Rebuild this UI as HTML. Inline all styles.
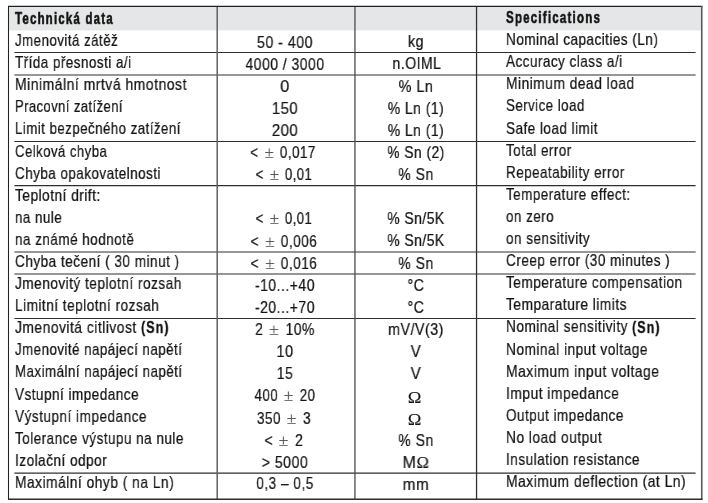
<!DOCTYPE html>
<html><head><meta charset="utf-8"><title>Technická data</title>
<style>
html,body{margin:0;padding:0;background:#fff;}
body{width:708px;height:503px;position:relative;overflow:hidden;font-family:"Liberation Sans",sans-serif;color:#141414;}
.hd{position:absolute;left:9px;top:7px;width:692px;height:23.4px;background:#e5e6e7;}
.ln{position:absolute;left:0;top:0;}
.t{-webkit-text-stroke:0.24px #141414;will-change:transform;position:absolute;white-space:pre;font-size:17.00px;line-height:1;height:17.00px;}
.l{transform-origin:0 0;}
.c{transform-origin:50% 0;width:300px;text-align:center;}
b{font-weight:bold;-webkit-text-stroke:0.65px #1c1c1c;}
b.ib{-webkit-text-stroke:0.35px #1c1c1c;}
.sy{font-family:"Liberation Serif",serif;color:#5c5c5c;-webkit-text-stroke:0.15px #5c5c5c;display:inline-block;font-size:118%;line-height:0;position:relative;top:0.8px;transform:scale(1.08,0.86);transform-origin:50% 80%;}
.om{font-family:"Liberation Serif",serif;-webkit-text-stroke:0.12px #141414;font-size:104%;line-height:0;position:relative;top:0.4px;}
</style></head><body>

<svg class="ln" width="708" height="503" viewBox="0 0 708 503"><rect x="9" y="7" width="692.2" height="23.45" fill="#e5e6e7"/><line x1="14.4" x2="695.6" y1="52.50" y2="52.50" stroke="#2e2e2e" stroke-width="1.2"/><line x1="14.4" x2="695.6" y1="75.00" y2="75.00" stroke="#2e2e2e" stroke-width="1.2"/><line x1="14.4" x2="695.6" y1="141.50" y2="141.50" stroke="#2e2e2e" stroke-width="1.2"/><line x1="14.4" x2="695.6" y1="185.65" y2="185.65" stroke="#2e2e2e" stroke-width="1.2"/><line x1="14.4" x2="695.6" y1="252.00" y2="252.00" stroke="#2e2e2e" stroke-width="1.2"/><line x1="14.4" x2="695.6" y1="274.00" y2="274.00" stroke="#2e2e2e" stroke-width="1.2"/><line x1="14.4" x2="695.6" y1="318.50" y2="318.50" stroke="#2e2e2e" stroke-width="1.2"/><line x1="14.4" x2="695.6" y1="473.20" y2="473.20" stroke="#2e2e2e" stroke-width="1.2"/><line x1="217.20" x2="217.20" y1="6.4" y2="499.2" stroke="#626262" stroke-width="1.50"/><line x1="354.95" x2="354.95" y1="6.4" y2="499.2" stroke="#4c4c4c" stroke-width="1.30"/><line x1="476.55" x2="476.55" y1="6.4" y2="499.2" stroke="#333" stroke-width="1.30"/><line x1="8" x2="702.4" y1="6.45" y2="6.45" stroke="#222" stroke-width="1.25"/><line x1="8.5" x2="8.5" y1="6" y2="500" stroke="#222" stroke-width="1.05"/><line x1="701.75" x2="701.75" y1="6" y2="500" stroke="#5a5a5a" stroke-width="1.6"/><line x1="8" x2="702.5" y1="499.2" y2="499.2" stroke="#2e2e2e" stroke-width="1.35"/></svg>
<div class="t l" id="t0_0" style="left:14.70px;top:10.11px;letter-spacing:1.80px;transform:scaleX(0.6735)"><b>Technická data</b></div>
<div class="t l" id="t0_3" style="left:505.50px;top:8.91px;letter-spacing:1.80px;transform:scaleX(0.6775)"><b>Specifications</b></div>
<div class="t l" id="t1_0" style="left:14.70px;top:31.54px;letter-spacing:0.60px;transform:scaleX(0.7828)">Jmenovitá zátěž</div>
<div class="t c" id="t1_1" style="left:134.99px;top:33.74px;letter-spacing:0.60px;transform:scaleX(0.8335)">50 - 400</div>
<div class="t c" id="t1_2" style="left:266.32px;top:33.24px;letter-spacing:0.60px;transform:scaleX(0.8436)">kg</div>
<div class="t l" id="t1_3" style="left:505.50px;top:30.74px;letter-spacing:0.60px;transform:scaleX(0.7958)">Nominal capacities (Ln)</div>
<div class="t l" id="t2_0" style="left:14.70px;top:53.67px;letter-spacing:0.60px;transform:scaleX(0.7905)">Třída přesnosti a/i</div>
<div class="t c" id="t2_1" style="left:134.90px;top:55.87px;letter-spacing:0.60px;transform:scaleX(0.8193)">4000 / 3000</div>
<div class="t c" id="t2_2" style="left:266.61px;top:55.37px;letter-spacing:0.60px;transform:scaleX(0.8259)">n.OIML</div>
<div class="t l" id="t2_3" style="left:505.50px;top:52.67px;letter-spacing:0.60px;transform:scaleX(0.7943)">Accuracy class a/i</div>
<div class="t l" id="t3_0" style="left:14.70px;top:75.80px;letter-spacing:0.60px;transform:scaleX(0.8225)">Minimální mrtvá hmotnost</div>
<div class="t c" id="t3_1" style="left:135.16px;top:78.00px;letter-spacing:0.60px;transform:scaleX(0.9511)">0</div>
<div class="t c" id="t3_2" style="left:266.32px;top:77.50px;letter-spacing:0.60px;transform:scaleX(0.8478)">% Ln</div>
<div class="t l" id="t3_3" style="left:505.50px;top:75.30px;letter-spacing:0.60px;transform:scaleX(0.8111)">Minimum dead load</div>
<div class="t l" id="t4_0" style="left:14.70px;top:97.93px;letter-spacing:0.60px;transform:scaleX(0.7627)">Pracovní zatížení</div>
<div class="t c" id="t4_1" style="left:134.65px;top:100.13px;letter-spacing:0.60px;transform:scaleX(0.8750)">150</div>
<div class="t c" id="t4_2" style="left:265.61px;top:99.63px;letter-spacing:0.60px;transform:scaleX(0.8169)">% Ln (1)</div>
<div class="t l" id="t4_3" style="left:505.50px;top:97.43px;letter-spacing:0.60px;transform:scaleX(0.7816)">Service load</div>
<div class="t l" id="t5_0" style="left:14.70px;top:120.06px;letter-spacing:0.60px;transform:scaleX(0.7805)">Limit bezpečného zatížení</div>
<div class="t c" id="t5_1" style="left:134.59px;top:122.26px;letter-spacing:0.60px;transform:scaleX(0.8773)">200</div>
<div class="t c" id="t5_2" style="left:265.61px;top:121.76px;letter-spacing:0.60px;transform:scaleX(0.8169)">% Ln (1)</div>
<div class="t l" id="t5_3" style="left:505.50px;top:119.56px;letter-spacing:0.60px;transform:scaleX(0.7937)">Safe load limit</div>
<div class="t l" id="t6_0" style="left:14.70px;top:142.99px;letter-spacing:0.60px;transform:scaleX(0.7734)">Celková chyba</div>
<div class="t c" id="t6_1" style="left:133.44px;top:143.99px;word-spacing:2.50px;letter-spacing:0.60px;transform:scaleX(0.7876)">&lt; <span class="sy">±</span> 0,017</div>
<div class="t c" id="t6_2" style="left:266.12px;top:143.89px;letter-spacing:0.60px;transform:scaleX(0.8075)">% Sn (2)</div>
<div class="t l" id="t6_3" style="left:505.50px;top:141.69px;letter-spacing:0.60px;transform:scaleX(0.7907)">Total error</div>
<div class="t l" id="t7_0" style="left:14.70px;top:165.12px;letter-spacing:0.60px;transform:scaleX(0.7904)">Chyba opakovatelnosti</div>
<div class="t c" id="t7_1" style="left:134.05px;top:166.12px;word-spacing:2.50px;letter-spacing:0.60px;transform:scaleX(0.7707)">&lt; <span class="sy">±</span> 0,01</div>
<div class="t c" id="t7_2" style="left:266.40px;top:166.02px;letter-spacing:0.60px;transform:scaleX(0.8247)">% Sn</div>
<div class="t l" id="t7_3" style="left:505.50px;top:163.82px;letter-spacing:0.60px;transform:scaleX(0.7902)">Repeatability error</div>
<div class="t l" id="t8_0" style="left:14.70px;top:186.85px;letter-spacing:0.60px;transform:scaleX(0.8060)">Teplotní drift:</div>
<div class="t l" id="t8_3" style="left:505.50px;top:185.95px;letter-spacing:0.60px;transform:scaleX(0.7902)">Temperature effect:</div>
<div class="t l" id="t9_0" style="left:14.70px;top:208.98px;letter-spacing:0.60px;transform:scaleX(0.7857)">na nule</div>
<div class="t c" id="t9_1" style="left:134.05px;top:210.38px;word-spacing:2.50px;letter-spacing:0.60px;transform:scaleX(0.7707)">&lt; <span class="sy">±</span> 0,01</div>
<div class="t c" id="t9_2" style="left:265.72px;top:210.28px;letter-spacing:0.60px;transform:scaleX(0.8124)">% Sn/5K</div>
<div class="t l" id="t9_3" style="left:505.50px;top:208.08px;letter-spacing:0.60px;transform:scaleX(0.7909)">on zero</div>
<div class="t l" id="t10_0" style="left:14.70px;top:231.11px;letter-spacing:0.60px;transform:scaleX(0.7930)">na známé hodnotě</div>
<div class="t c" id="t10_1" style="left:134.35px;top:232.51px;word-spacing:2.50px;letter-spacing:0.60px;transform:scaleX(0.8008)">&lt; <span class="sy">±</span> 0,006</div>
<div class="t c" id="t10_2" style="left:265.72px;top:232.41px;letter-spacing:0.60px;transform:scaleX(0.8124)">% Sn/5K</div>
<div class="t l" id="t10_3" style="left:505.50px;top:230.21px;letter-spacing:0.60px;transform:scaleX(0.7959)">on sensitivity</div>
<div class="t l" id="t11_0" style="left:14.70px;top:253.24px;letter-spacing:0.60px;transform:scaleX(0.7996)">Chyba tečení ( 30 minut )</div>
<div class="t c" id="t11_1" style="left:134.35px;top:254.64px;word-spacing:2.50px;letter-spacing:0.60px;transform:scaleX(0.8008)">&lt; <span class="sy">±</span> 0,016</div>
<div class="t c" id="t11_2" style="left:266.40px;top:254.54px;letter-spacing:0.60px;transform:scaleX(0.8247)">% Sn</div>
<div class="t l" id="t11_3" style="left:505.50px;top:252.34px;letter-spacing:0.60px;transform:scaleX(0.7975)">Creep error (30 minutes )</div>
<div class="t l" id="t12_0" style="left:14.70px;top:274.97px;letter-spacing:0.60px;transform:scaleX(0.8028)">Jmenovitý teplotní rozsah</div>
<div class="t c" id="t12_1" style="left:134.71px;top:276.77px;letter-spacing:0.60px;transform:scaleX(0.8218)">-10...+40</div>
<div class="t c" id="t12_2" style="left:266.47px;top:276.67px;letter-spacing:0.60px;transform:scaleX(0.8289)">°C</div>
<div class="t l" id="t12_3" style="left:505.50px;top:273.87px;letter-spacing:0.60px;transform:scaleX(0.8012)">Temperature compensation</div>
<div class="t l" id="t13_0" style="left:14.70px;top:297.10px;letter-spacing:0.60px;transform:scaleX(0.8012)">Limitní teplotní rozsah</div>
<div class="t c" id="t13_1" style="left:134.71px;top:298.90px;letter-spacing:0.60px;transform:scaleX(0.8218)">-20...+70</div>
<div class="t c" id="t13_2" style="left:266.47px;top:298.80px;letter-spacing:0.60px;transform:scaleX(0.8289)">°C</div>
<div class="t l" id="t13_3" style="left:505.50px;top:296.00px;letter-spacing:0.60px;transform:scaleX(0.8085)">Temparature limits</div>
<div class="t l" id="t14_0" style="left:14.70px;top:319.23px;letter-spacing:0.60px;transform:scaleX(0.8150)">Jmenovitá citlivost</div>
<div class="t c" id="t14_1" style="left:134.66px;top:321.03px;word-spacing:2.50px;letter-spacing:0.60px;transform:scaleX(0.8167)">2 <span class="sy">±</span> 10%</div>
<div class="t c" id="t14_2" style="left:265.82px;top:320.93px;letter-spacing:0.60px;transform:scaleX(0.8375)">mV/V(3)</div>
<div class="t l" id="t14_3" style="left:505.50px;top:318.13px;letter-spacing:0.60px;transform:scaleX(0.8018)">Nominal sensitivity</div>
<div class="t l" id="t15_0" style="left:14.70px;top:341.36px;letter-spacing:0.60px;transform:scaleX(0.7840)">Jmenovité napájecí napětí</div>
<div class="t c" id="t15_1" style="left:135.17px;top:343.16px;letter-spacing:0.60px;transform:scaleX(0.8533)">10</div>
<div class="t c" id="t15_2" style="left:265.93px;top:343.06px;letter-spacing:0.60px;transform:scaleX(0.8885)">V</div>
<div class="t l" id="t15_3" style="left:505.50px;top:340.86px;letter-spacing:0.60px;transform:scaleX(0.8063)">Nominal input voltage</div>
<div class="t l" id="t16_0" style="left:14.70px;top:363.49px;letter-spacing:0.60px;transform:scaleX(0.7850)">Maximální napájecí napětí</div>
<div class="t c" id="t16_1" style="left:134.90px;top:365.29px;letter-spacing:0.60px;transform:scaleX(0.8165)">15</div>
<div class="t c" id="t16_2" style="left:265.93px;top:365.19px;letter-spacing:0.60px;transform:scaleX(0.8885)">V</div>
<div class="t l" id="t16_3" style="left:505.50px;top:362.99px;letter-spacing:0.60px;transform:scaleX(0.8191)">Maximum input voltage</div>
<div class="t l" id="t17_0" style="left:14.70px;top:385.62px;letter-spacing:0.60px;transform:scaleX(0.7963)">Vstupní impedance</div>
<div class="t c" id="t17_1" style="left:135.01px;top:387.42px;word-spacing:2.50px;letter-spacing:0.60px;transform:scaleX(0.7858)">400 <span class="sy">±</span> 20</div>
<div class="t c" id="t17_2" style="left:265.17px;top:388.72px;letter-spacing:0.60px;transform:scaleX(1.0398)"><span class="om">Ω</span></div>
<div class="t l" id="t17_3" style="left:505.50px;top:385.12px;letter-spacing:0.60px;transform:scaleX(0.8137)">Imput impedance</div>
<div class="t l" id="t18_0" style="left:14.70px;top:407.75px;letter-spacing:0.60px;transform:scaleX(0.8005)">Výstupní impedance</div>
<div class="t c" id="t18_1" style="left:134.41px;top:409.55px;word-spacing:2.50px;letter-spacing:0.60px;transform:scaleX(0.8016)">350 <span class="sy">±</span> 3</div>
<div class="t c" id="t18_2" style="left:265.17px;top:410.85px;letter-spacing:0.60px;transform:scaleX(1.0398)"><span class="om">Ω</span></div>
<div class="t l" id="t18_3" style="left:505.50px;top:407.25px;letter-spacing:0.60px;transform:scaleX(0.7931)">Output impedance</div>
<div class="t l" id="t19_0" style="left:14.70px;top:429.88px;letter-spacing:0.60px;transform:scaleX(0.7945)">Tolerance výstupu na nule</div>
<div class="t c" id="t19_1" style="left:134.10px;top:431.68px;word-spacing:2.50px;letter-spacing:0.60px;transform:scaleX(0.8101)">&lt; <span class="sy">±</span> 2</div>
<div class="t c" id="t19_2" style="left:266.40px;top:431.58px;letter-spacing:0.60px;transform:scaleX(0.8247)">% Sn</div>
<div class="t l" id="t19_3" style="left:505.50px;top:428.78px;letter-spacing:0.60px;transform:scaleX(0.8081)">No load output</div>
<div class="t l" id="t20_0" style="left:14.70px;top:452.01px;letter-spacing:0.60px;transform:scaleX(0.8001)">Izolační odpor</div>
<div class="t c" id="t20_1" style="left:134.74px;top:453.81px;letter-spacing:0.60px;transform:scaleX(0.8278)">&gt; 5000</div>
<div class="t c" id="t20_2" style="left:265.52px;top:453.71px;letter-spacing:0.60px;transform:scaleX(0.9502)">M<span class="om">Ω</span></div>
<div class="t l" id="t20_3" style="left:505.50px;top:450.51px;letter-spacing:0.60px;transform:scaleX(0.7993)">Insulation resistance</div>
<div class="t l" id="t21_0" style="left:14.70px;top:474.14px;letter-spacing:0.60px;transform:scaleX(0.8115)">Maximální ohyb ( na Ln)</div>
<div class="t c" id="t21_1" style="left:134.59px;top:475.14px;letter-spacing:0.60px;transform:scaleX(0.8044)">0,3 – 0,5</div>
<div class="t c" id="t21_2" style="left:266.29px;top:475.84px;letter-spacing:0.60px;transform:scaleX(0.8970)">mm</div>
<div class="t l" id="t21_3" style="left:505.50px;top:472.64px;letter-spacing:0.60px;transform:scaleX(0.8167)">Maximum deflection (at Ln)</div>
<div class="t l" id="t14_0b" style="left:140.60px;top:319.23px;letter-spacing:1.40px;transform:scaleX(0.7404)"><b class="ib">(Sn)</b></div>
<div class="t l" id="t14_3b" style="left:632.30px;top:318.73px;letter-spacing:1.40px;transform:scaleX(0.7404)"><b class="ib">(Sn)</b></div>
</body></html>
